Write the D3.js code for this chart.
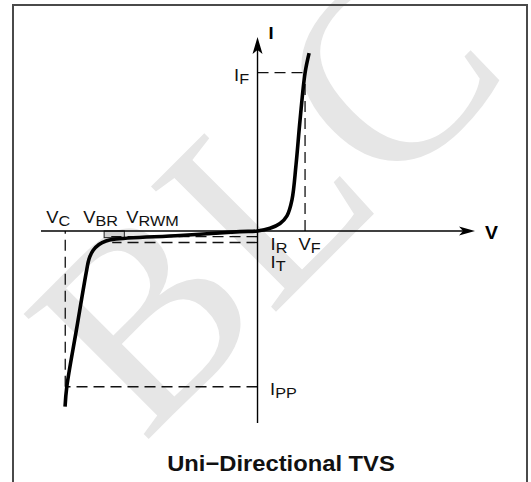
<!DOCTYPE html>
<html>
<head>
<meta charset="utf-8">
<script src="https://cdn.jsdelivr.net/npm/d3@7"></script>
<style>
html, body { margin: 0; padding: 0; background: #fff; }
svg { display: block; font-family: "Liberation Sans", Arial, Helvetica, sans-serif; }
</style>
</head>
<body>
<svg id="chart" width="531" height="482"></svg>
<script>
// schematic I-V characteristic of a uni-directional TVS diode
var curveV = [-10.0, -9.91, -9.41, -8.875, -8.755, -8.547, -8.236, -7.872, -7.456, -4.03, -0.91, 0, 0.65, 1.17, 1.53, 1.79, 2.0, 2.21, 2.47, 2.68];
var curveI = [-11.1, -9.84, -6.25, -2.46, -1.77, -1.23, -0.853, -0.632, -0.524, -0.284, -0.044, 0, 0.17, 0.47, 0.95, 1.96, 4.17, 7.01, 9.98, 11.23];

// characteristic voltages / currents
var vNames = ['C', 'BR', 'RWM', 'F'];
var vValues = [-9.99, -7.97, -6.92, 2.47];
var iNames = ['F', 'R', 'T', 'PP'];
var iValues = [10, -0.36, -0.73, -9.84];

var xDomain = [-11.25, 11.3],
    yDomain = [-12.13, 12.25];

var svg = d3.select('#chart');

var x = d3.scaleLinear().domain(xDomain).range([41, 475]),
    y = d3.scaleLinear().domain(yDomain).range([423, 37]);

function V(name) { return vValues[vNames.indexOf(name)]; }
function I(name) { return iValues[iNames.indexOf(name)]; }

// watermark
svg.append('text')
    .attr('transform', 'translate(285,215) rotate(-45)')
    .attr('text-anchor', 'middle')
    .attr('dominant-baseline', 'middle')
    .style('font-family', '"Liberation Serif", "DejaVu Serif", serif')
    .style('font-size', '270px')
    .attr('fill', '#e6e6e6')
    .text('BLC');

// frame
svg.append('rect')
    .attr('x', 13).attr('y', 5)
    .attr('width', 514).attr('height', 500)
    .attr('fill', 'none')
    .attr('stroke', '#4a4a4a')
    .attr('stroke-width', 2);

// reverse standoff box between V_BR and V_RWM
svg.append('rect')
    .attr('x', x(V('BR'))).attr('y', y(0))
    .attr('width', x(V('RWM')) - x(V('BR')))
    .attr('height', y(I('R')) - y(0) + 1)
    .attr('fill', '#d0d0d0')
    .attr('stroke', '#222')
    .attr('stroke-width', 1);

// dashed guides
var dash = '11,6';
var guides = [
    [V('F'), I('F'), 0, I('F')],
    [V('F'), I('F'), V('F'), 0],
    [V('C'), 0, V('C'), I('PP')],
    [V('C'), I('PP'), 0, I('PP')],
    [-7.6, I('R'), 0, I('R')],
    [-7.55, I('T'), 0, I('T')]
];
svg.selectAll('line.guide')
    .data(guides)
    .enter()
    .append('line')
    .attr('class', 'guide')
    .attr('x1', function (d) { return x(d[2]); })
    .attr('y1', function (d) { return y(d[3]); })
    .attr('x2', function (d) { return x(d[0]); })
    .attr('y2', function (d) { return y(d[1]); })
    .attr('stroke', '#111')
    .attr('stroke-width', 1.3)
    .attr('stroke-dasharray', dash);

// axes
svg.append('line')
    .attr('x1', x(xDomain[0])).attr('y1', y(0))
    .attr('x2', x(xDomain[1]) - 8).attr('y2', y(0))
    .attr('stroke', '#000').attr('stroke-width', 1.4);
svg.append('line')
    .attr('x1', x(0)).attr('y1', y(yDomain[0]))
    .attr('x2', x(0)).attr('y2', y(yDomain[1]) + 8)
    .attr('stroke', '#000').attr('stroke-width', 1.4);

// arrow heads
var xt = x(xDomain[1]), yt = y(0);
svg.append('path')
    .attr('d', 'M' + xt + ',' + yt + 'L' + (xt - 16) + ',' + (yt - 4.5) + 'L' + (xt - 12) + ',' + yt + 'L' + (xt - 16) + ',' + (yt + 4.5) + 'Z')
    .attr('fill', '#000');
var ax = x(0), ay = y(yDomain[1]);
svg.append('path')
    .attr('d', 'M' + ax + ',' + ay + 'L' + (ax - 5) + ',' + (ay + 17) + 'L' + ax + ',' + (ay + 13) + 'L' + (ax + 5) + ',' + (ay + 17) + 'Z')
    .attr('fill', '#000');

// the I-V curve
var line = d3.line()
    .x(function (d) { return x(d[0]); })
    .y(function (d) { return y(d[1]); })
    .curve(d3.curveCatmullRom.alpha(0.5));

svg.append('path')
    .datum(d3.zip(curveV, curveI))
    .attr('d', line)
    .attr('fill', 'none')
    .attr('stroke', '#000')
    .attr('stroke-width', 3.6)
    .attr('stroke-linecap', 'butt')
    .attr('stroke-linejoin', 'round');

// labels with subscripts
function label(px, py, main, sub) {
    var t = svg.append('text')
        .attr('transform', 'translate(' + px + ',' + py + ') scale(1.08,1)')
        .attr('fill', '#111')
        .style('font-size', '17px');
    t.append('tspan').text(main);
    t.append('tspan').attr('dy', 3).style('font-size', '15px').text(sub);
}

label(x(V('C')) - 19, y(0) - 8, 'V', 'C');
label(x(V('BR')) - 21, y(0) - 8, 'V', 'BR');
label(x(V('RWM')) + 2, y(0) - 8, 'V', 'RWM');
label(x(V('F')) - 6.5, y(0) + 19, 'V', 'F');
label(x(0) + 13, y(0) + 19, 'I', 'R');
label(x(0) + 13, y(0) + 37, 'I', 'T');
label(x(0) - 23.5, y(I('F')) + 8, 'I', 'F');
label(x(0) + 12.5, y(I('PP')) + 8, 'I', 'PP');

// axis names
svg.append('text')
    .attr('transform', 'translate(485,' + (y(0) + 8) + ') scale(1.08,1)')
    .style('font-size', '18px').style('font-weight', 'bold')
    .text('V');
svg.append('text')
    .attr('transform', 'translate(268.5,38.5) scale(1.08,1)')
    .style('font-size', '17px').style('font-weight', 'bold')
    .text('I');

// title
svg.append('text')
    .attr('transform', 'translate(281,470.5) scale(1.08,1)')
    .attr('text-anchor', 'middle')
    .style('font-size', '22px').style('font-weight', 'bold')
    .attr('fill', '#111')
    .text('Uni\u2212Directional TVS');
</script>
</body>
</html>
